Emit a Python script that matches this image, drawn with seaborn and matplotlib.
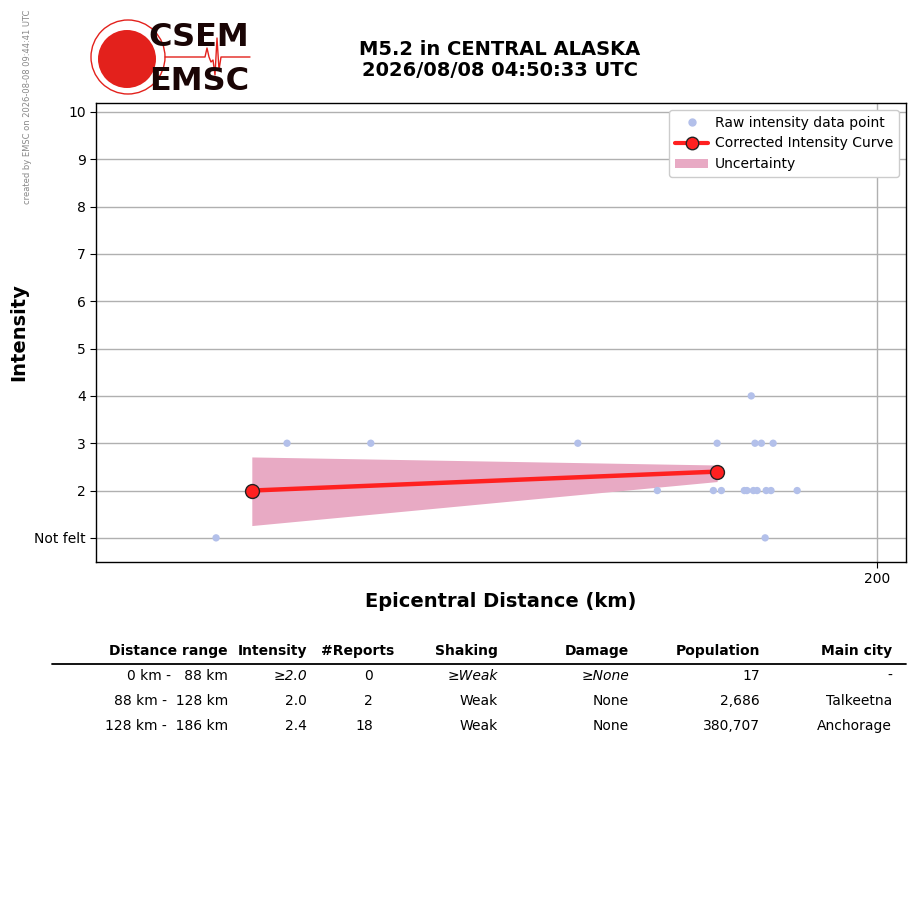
import numpy as np
import pandas as pd
import seaborn as sns
import matplotlib.pyplot as plt
from matplotlib.patches import Circle, Patch
from matplotlib.lines import Line2D

# Datos
raw_dist = [76.1, 89.4, 105.1, 143.9, 158.8, 169.3, 170.0, 170.8, 175.1, 175.6,
            176.4, 176.8, 177.1, 177.5, 178.3, 179.0, 179.2, 180.1, 180.5, 185.0]
raw_int = [1, 3, 3, 3, 2, 2, 3, 2, 2, 2, 4, 2, 3, 2, 3, 1, 2, 2, 3, 2]

curve_dist = [82.8, 170.0]
curve_int = [2.0, 2.4]
curve_low = [1.26, 2.19]
curve_high = [2.71, 2.54]

yticks = [1, 2, 3, 4, 5, 6, 7, 8, 9, 10]
ylabels = ["Not felt", "2", "3", "4", "5", "6", "7", "8", "9", "10"]

table_header = ["Distance range", "Intensity", "#Reports", "Shaking", "Damage", "Population", "Main city"]
table_rows = [
    ["0 km -   88 km", "\u22652.0", "0", "\u2265Weak", "\u2265None", "17", "-"],
    ["88 km -  128 km", "2.0", "2", "Weak", "None", "2,686", "Talkeetna"],
    ["128 km -  186 km", "2.4", "18", "Weak", "None", "380,707", "Anchorage"],
]
italic_row = [False, True, False, True, True, False, False]

df_raw = pd.DataFrame({"dist": raw_dist, "intensity": raw_int})
df_curve = pd.DataFrame({"dist": curve_dist, "intensity": curve_int})

sns.set_style("white", rc={"text.color": "black", "axes.labelcolor": "black",
                           "xtick.color": "black", "ytick.color": "black"})
W, H = 915, 905
fig = plt.figure(figsize=(W / 100, H / 100), dpi=100)

ax = fig.add_axes([96 / W, 1 - 562 / H, 810 / W, 459 / H])
ax.fill_between(curve_dist, curve_low, curve_high, color="#e8aac4", lw=0, zorder=2)
sns.scatterplot(data=df_raw, x="dist", y="intensity", color="#b3c0ea", s=28,
                edgecolor="none", ax=ax, zorder=3, legend=False)
sns.lineplot(data=df_curve, x="dist", y="intensity", color="#ff2020", lw=3.2,
             marker="o", markersize=10, markerfacecolor="#ff2020",
             markeredgecolor="#222222", markeredgewidth=1, ax=ax, zorder=4)

ax.set_xlim(53.6, 205.4)
ax.set_ylim(0.49, 10.19)
ax.set_xticks([200])
ax.set_xticklabels(["200"])
ax.set_yticks(yticks)
ax.set_yticklabels(ylabels)
ax.tick_params(labelsize=10, length=4, direction="out", left=True, bottom=True)
ax.grid(True, color="#b0b0b0", lw=1)
ax.set_axisbelow(True)
for s in ax.spines.values():
    s.set_color("black")
    s.set_linewidth(1)
ax.set_xlabel("Epicentral Distance (km)", fontsize=14, fontweight="bold", labelpad=4)
ax.set_ylabel("Intensity", fontsize=14, fontweight="bold", labelpad=4)

handles = [
    Line2D([], [], ls="none", marker="o", color="#b3c0ea", markersize=5),
    Line2D([], [], color="#ff2020", lw=3, marker="o", markersize=9,
           markerfacecolor="#ff2020", markeredgecolor="#222222"),
    Patch(color="#e8aac4", lw=0),
]
ax.legend(handles, ["Raw intensity data point", "Corrected Intensity Curve", "Uncertainty"],
          loc="upper right", fontsize=10, frameon=True, framealpha=1,
          borderaxespad=0.5, handlelength=2.4, handletextpad=0.5, borderpad=0.4)

# capa de anotaciones en pixeles
ov = fig.add_axes([0, 0, 1, 1], zorder=-1)
ov.set_xlim(0, W)
ov.set_ylim(H, 0)
ov.axis("off")

fig.text(500 / W, 1 - 60 / H, "M5.2 in CENTRAL ALASKA\n2026/08/08 04:50:33 UTC",
         ha="center", va="center", fontsize=14, fontweight="bold", linespacing=1.1)
fig.text(28 / W, 1 - 107 / H, "created by EMSC on 2026-08-08 09:44:41 UTC",
         rotation=90, ha="center", va="center", fontsize=6, color="#888888")

# logo
red = "#e3211c"
ov.add_patch(Circle((128, 57), 37, fill=False, ec=red, lw=1))
ov.add_patch(Circle((127, 59), 29, fc=red, ec="none"))
seis_x = [165, 205, 207, 209, 211, 213, 215, 217, 219, 221, 223, 250]
seis_y = [57, 57, 48, 57, 62, 60, 75, 38, 70, 57, 57, 57]
ov.plot(seis_x, seis_y, color=red, lw=1)
ov.text(199, 37, "CSEM", ha="center", va="center", fontsize=23, fontweight="bold", color="#1a0505")
ov.text(199, 81, "EMSC", ha="center", va="center", fontsize=23, fontweight="bold", color="#1a0505")

# tabla
col_right = [228, 307, 373, 498, 629, 760, 892]
head_right = [228, 307, 394, 498, 629, 760, 892]
for j, h in enumerate(table_header):
    ov.text(head_right[j], 651, h, ha="right", va="center", fontsize=10, fontweight="bold")
ov.plot([52, 906], [664, 664], color="black", lw=1.3)
for i, row in enumerate(table_rows):
    y = 676 + i * 25
    for j, v in enumerate(row):
        st = "italic" if (i == 0 and italic_row[j]) else "normal"
        ov.text(col_right[j], y, v, ha="right", va="center", fontsize=10, style=st)

fig.savefig("out.png", dpi=100)
